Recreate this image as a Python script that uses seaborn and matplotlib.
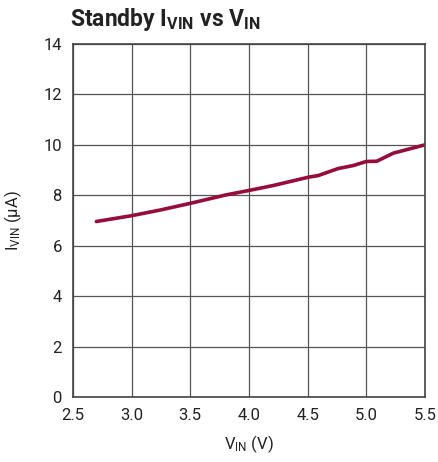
import matplotlib
matplotlib.use("Agg")
import matplotlib.pyplot as plt
from matplotlib import font_manager
import seaborn as sns
import pandas as pd

# standby supply current vs input voltage
v_in = [2.70, 3.00, 3.25, 3.50, 3.81, 4.00, 4.21, 4.51, 4.59, 4.76, 4.89, 5.00, 5.09, 5.23, 5.50]
i_vin = [6.96, 7.19, 7.42, 7.68, 8.02, 8.19, 8.39, 8.72, 8.78, 9.06, 9.18, 9.34, 9.35, 9.67, 10.0]

x_ticks = [2.5, 3.0, 3.5, 4.0, 4.5, 5.0, 5.5]
y_ticks = [0, 2, 4, 6, 8, 10, 12, 14]

LINE_COLOR = "#960d3a"

sns.set_theme(style="white")

names = {f.name for f in font_manager.fontManager.ttflist}
narrow = "Liberation Sans Narrow" if "Liberation Sans Narrow" in names else "Roboto"
plt.rcParams["font.family"] = [narrow, "DejaVu Sans"]
plt.rcParams["mathtext.fontset"] = "custom"
plt.rcParams["mathtext.rm"] = narrow
plt.rcParams["mathtext.bf"] = narrow + ":bold"

df = pd.DataFrame({"vin": v_in, "ivin": i_vin})

fig = plt.figure(figsize=(4.39, 4.62), dpi=100)
ax = fig.add_axes([0.166, 0.1407, 0.802, 0.7641])

sns.lineplot(data=df, x="vin", y="ivin", color=LINE_COLOR, lw=2.6, ax=ax)

ax.set_xlim(2.5, 5.5)
ax.set_ylim(0, 14)
ax.set_xticks(x_ticks)
ax.set_yticks(y_ticks)
ax.set_xticklabels([f"{t:.1f}" for t in x_ticks], fontsize=12)
ax.set_yticklabels([str(t) for t in y_ticks], fontsize=12)
ax.tick_params(axis="x", length=0, pad=8, colors="#222222")
ax.tick_params(axis="y", length=0, pad=8, colors="#222222")
ax.grid(True, color="#555555", lw=0.9)
for s in ax.spines.values():
    s.set_color("#444444")
    s.set_linewidth(1.2)

ax.set_xlabel(r"$\mathregular{V_{IN}}$ (V)", fontsize=12, labelpad=7, color="#222222")
ax.set_ylabel(r"$\mathregular{I_{VIN}}$ (µA)", fontsize=12, labelpad=14, color="#222222")

fig.text(0.16, 0.958, r"Standby $\mathbf{I_{VIN}}$ vs $\mathbf{V_{IN}}$",
         fontsize=16.5, fontweight="bold", ha="left", va="center", color="#222222")

fig.savefig("out.png", dpi=100)
